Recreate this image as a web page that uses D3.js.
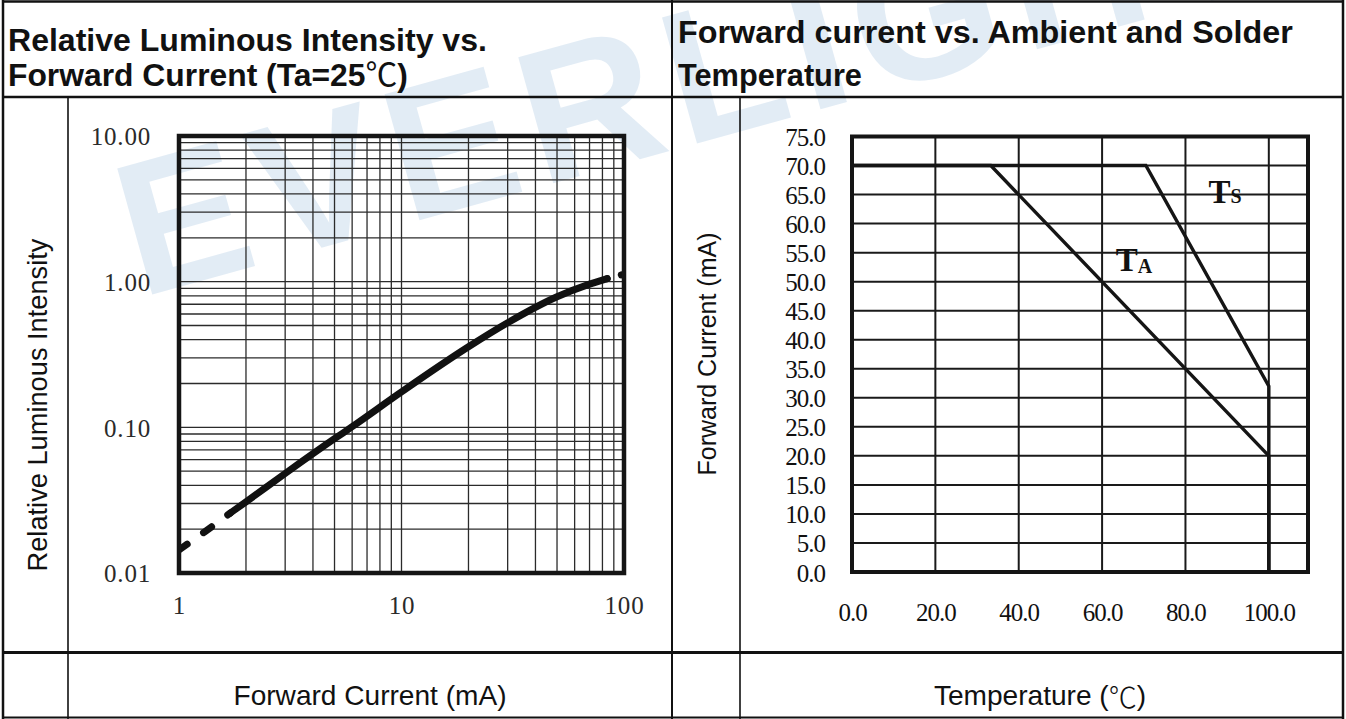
<!DOCTYPE html>
<html>
<head>
<meta charset="utf-8">
<script src="https://cdn.jsdelivr.net/npm/d3@7"></script>
<style>
  html, body { margin: 0; padding: 0; background: #fff; }
  svg { display: block; }
</style>
</head>
<body>
<svg id="chart" width="1346" height="719"></svg>
<script>
// ---------------- DATA ----------------
// Left chart: Relative Luminous Intensity vs Forward Current (log-log)
const leftXTickValues = [1, 10, 100];
const leftXTickLabels = ["1", "10", "100"];
const leftYTickValues = [0.01, 0.1, 1, 10];
const leftYTickLabels = ["0.01", "0.10", "1.00", "10.00"];

// dashed start of the curve
const currentDashed   = [1, 1.3, 1.7];
const intensityDashed = [0.0144, 0.0191, 0.0258];
// solid part of the curve
const currentSolid    = [1.7, 2, 3, 5, 6, 10, 20, 30, 50, 70, 84];
const intensitySolid  = [0.0258, 0.0308, 0.0482, 0.0835, 0.101, 0.175, 0.357, 0.522, 0.787, 0.962, 1.05];
// dotted tail
const currentTail     = [84, 100];
const intensityTail   = [1.05, 1.125];

// Right chart: Forward current vs Ambient and Solder Temperature
const tempTickValues    = [0, 20, 40, 60, 80, 100];
const tempTickLabels    = ["0.0", "20.0", "40.0", "60.0", "80.0", "100.0"];
const currentTickValues = [0, 5, 10, 15, 20, 25, 30, 35, 40, 45, 50, 55, 60, 65, 70, 75];
const currentTickLabels = ["0.0", "5.0", "10.0", "15.0", "20.0", "25.0", "30.0", "35.0",
                           "40.0", "45.0", "50.0", "55.0", "60.0", "65.0", "70.0", "75.0"];
const tempAxisMax = 109.4;   // plot frame extends a little past 100 (cropped)

const ambientTemp    = [0, 33.3, 100, 100];
const ambientCurrent = [70, 70, 20, 0];
const solderTemp     = [0, 70.5, 100, 100];
const solderCurrent  = [70, 70, 32, 0];

// text
const leftTitle  = ["Relative Luminous Intensity vs.", "Forward Current (Ta=25", ")"];
const rightTitle = ["Forward current vs. Ambient and Solder", "Temperature"];

// ---------------- DRAW ----------------
const svg = d3.select("#chart");
const SANS = "'Liberation Sans', Arial, Helvetica, sans-serif";
const SERIF = "'Liberation Serif', 'Times New Roman', Times, serif";
const CJK = "'Noto Sans CJK SC', 'DejaVu Sans', sans-serif";

function fitWidth(sel, target) {
  const w = sel.node().getComputedTextLength();
  const fs = parseFloat(sel.attr("font-size"));
  sel.attr("font-size", (fs * target / w).toFixed(2));
}
// horizontally squeeze/stretch a text (placed at x,y) to a target width
function fitScaleX(sel, x, y, target) {
  const w = sel.node().getBBox().width;
  sel.attr("transform", `translate(${x},${y}) scale(${(target / w).toFixed(4)},1)`);
}

// watermark
svg.append("text")
  .attr("transform", "translate(140,298) rotate(-15.5)")
  .attr("font-family", SANS)
  .attr("font-weight", "bold")
  .attr("font-size", 190)
  .attr("letter-spacing", 12)
  .attr("fill", "#1f6fb5")
  .attr("fill-opacity", 0.13)
  .text("EVERLIGHT");

// ---------- table frame ----------
const table = svg.append("g").attr("stroke", "#111").attr("fill", "none");
const hLines = [
  { y: 1.5, x1: 2, x2: 1344, w: 2.5 },
  { y: 97, x1: 2, x2: 1344, w: 2.5 },
  { y: 652.5, x1: 2, x2: 1344, w: 3 },
  { y: 717.5, x1: 2, x2: 1344, w: 2 }
];
const vLines = [
  { x: 3, y1: 0, y2: 719, w: 2.5 },
  { x: 672, y1: 0, y2: 719, w: 2 },
  { x: 1343, y1: 0, y2: 719, w: 2.5 },
  { x: 68, y1: 97, y2: 719, w: 1.6 },
  { x: 740, y1: 97, y2: 719, w: 1.6 }
];
table.selectAll(".h").data(hLines).join("line")
  .attr("x1", d => d.x1).attr("x2", d => d.x2).attr("y1", d => d.y).attr("y2", d => d.y)
  .attr("stroke-width", d => d.w);
table.selectAll(".v").data(vLines).join("line")
  .attr("x1", d => d.x).attr("x2", d => d.x).attr("y1", d => d.y1).attr("y2", d => d.y2)
  .attr("stroke-width", d => d.w);

// ---------- titles ----------
function titleLine(x, y, target, parts) {
  const t = svg.append("text").attr("x", 0).attr("y", 0)
    .attr("font-family", SANS).attr("font-weight", "bold").attr("font-size", 32)
    .attr("fill", "#111");
  parts.forEach(p => {
    const s = t.append("tspan").text(p.text);
    if (p.cjk) s.attr("font-family", CJK).attr("font-weight", "normal");
  });
  fitScaleX(t, x, y, target);
  return t;
}
titleLine(8, 51, 479, [{ text: leftTitle[0] }]);
titleLine(8, 86, 400, [{ text: leftTitle[1] }, { text: "\u2103", cjk: true }, { text: leftTitle[2] }]);
titleLine(678, 43, 615, [{ text: rightTitle[0] }]);
titleLine(678, 86, 184, [{ text: rightTitle[1] }]);

// ---------- LEFT CHART ----------
const xL = d3.scaleLog().domain([1, 100]).range([179, 624]);
const yL = d3.scaleLog().domain([0.01, 10]).range([573, 136]);

const gL = svg.append("g");
gL.append("g").selectAll("line").data(xL.ticks()).join("line")
  .attr("x1", d => xL(d)).attr("x2", d => xL(d))
  .attr("y1", yL.range()[0]).attr("y2", yL.range()[1])
  .attr("stroke", "#2b2b2b").attr("stroke-width", 1.3);
gL.append("g").selectAll("line").data(yL.ticks()).join("line")
  .attr("y1", d => yL(d)).attr("y2", d => yL(d))
  .attr("x1", xL.range()[0]).attr("x2", xL.range()[1])
  .attr("stroke", "#2b2b2b").attr("stroke-width", 1.3);

const lineL = d3.line().x(d => xL(d[0])).y(d => yL(d[1])).curve(d3.curveMonotoneX);
svg.append("clipPath").attr("id", "clipL").append("rect")
  .attr("x", xL.range()[0]).attr("y", yL.range()[1])
  .attr("width", xL.range()[1] - xL.range()[0]).attr("height", yL.range()[0] - yL.range()[1]);
const curveG = gL.append("g").attr("clip-path", "url(#clipL)")
  .attr("fill", "none").attr("stroke", "#111").attr("stroke-linecap", "round").attr("stroke-width", 7);
curveG.append("path").attr("d", lineL(currentDashed.map((c, i) => [c, intensityDashed[i]])))
  .attr("stroke-dasharray", "10 20");
curveG.append("path").attr("d", lineL(currentSolid.map((c, i) => [c, intensitySolid[i]])));
curveG.append("path").attr("d", lineL(currentTail.map((c, i) => [c, intensityTail[i]])))
  .attr("stroke-dasharray", "0.1 14.5");

gL.append("rect")
  .attr("x", xL.range()[0]).attr("y", yL.range()[1])
  .attr("width", xL.range()[1] - xL.range()[0]).attr("height", yL.range()[0] - yL.range()[1])
  .attr("fill", "none").attr("stroke", "#151515").attr("stroke-width", 4.5);

const axL = svg.append("g").attr("transform", `translate(${xL.range()[0]},0)`)
  .call(d3.axisLeft(yL).tickValues(leftYTickValues)
    .tickFormat((d, i) => leftYTickLabels[i]).tickSize(0).tickPadding(28));
const axB = svg.append("g").attr("transform", `translate(0,${yL.range()[0]})`)
  .call(d3.axisBottom(xL).tickValues(leftXTickValues)
    .tickFormat((d, i) => leftXTickLabels[i]).tickSize(0).tickPadding(23));
[axL, axB].forEach(a => {
  a.select(".domain").remove();
  a.selectAll("text").attr("font-family", SERIF).attr("font-size", 25)
    .attr("fill", "#2a2a2a").attr("letter-spacing", 0.8);
});
axL.selectAll("text").attr("dy", "0.35em");

// ---------- RIGHT CHART ----------
const xR = d3.scaleLinear().domain([0, tempAxisMax]).range([852, 1308]);
const yR = d3.scaleLinear().domain([0, 75]).range([572, 136.5]);
const gR = svg.append("g");
gR.append("g").selectAll("line").data(tempTickValues).join("line")
  .attr("x1", d => xR(d)).attr("x2", d => xR(d))
  .attr("y1", yR.range()[0]).attr("y2", yR.range()[1])
  .attr("stroke", "#1a1a1a").attr("stroke-width", 2);
gR.append("g").selectAll("line").data(currentTickValues).join("line")
  .attr("y1", d => yR(d)).attr("y2", d => yR(d))
  .attr("x1", xR.range()[0]).attr("x2", xR.range()[1])
  .attr("stroke", "#1a1a1a").attr("stroke-width", 2);

const lineR = d3.line().x(d => xR(d[0])).y(d => yR(d[1]));
gR.append("path").attr("d", lineR(ambientTemp.map((t, i) => [t, ambientCurrent[i]])))
  .attr("fill", "none").attr("stroke", "#151515").attr("stroke-width", 3.4);
gR.append("path").attr("d", lineR(solderTemp.map((t, i) => [t, solderCurrent[i]])))
  .attr("fill", "none").attr("stroke", "#151515").attr("stroke-width", 3.4);

gR.append("rect")
  .attr("x", xR.range()[0]).attr("y", yR.range()[1])
  .attr("width", xR.range()[1] - xR.range()[0]).attr("height", yR.range()[0] - yR.range()[1])
  .attr("fill", "none").attr("stroke", "#151515").attr("stroke-width", 4);

// series labels
const ta = gR.append("text").attr("x", xR(63.3)).attr("y", yR(51.8))
  .attr("font-family", SERIF).attr("font-weight", "bold").attr("font-size", 33).attr("fill", "#111");
ta.append("tspan").text("T");
ta.append("tspan").attr("font-size", 20).attr("dy", 2).text("A");
const ts = gR.append("text").attr("x", xR(85.5)).attr("y", yR(63.5))
  .attr("font-family", SERIF).attr("font-weight", "bold").attr("font-size", 33).attr("fill", "#111");
ts.append("tspan").text("T");
ts.append("tspan").attr("font-size", 20).text("S");

const axRL = svg.append("g").attr("transform", `translate(${xR.range()[0]},0)`)
  .call(d3.axisLeft(yR).tickValues(currentTickValues)
    .tickFormat((d, i) => currentTickLabels[i]).tickSize(0).tickPadding(27));
const axRB = svg.append("g").attr("transform", `translate(0,${yR.range()[0]})`)
  .call(d3.axisBottom(xR).tickValues(tempTickValues)
    .tickFormat((d, i) => tempTickLabels[i]).tickSize(0).tickPadding(31));
[axRL, axRB].forEach(a => {
  a.select(".domain").remove();
  a.selectAll("text").attr("font-family", SERIF).attr("font-size", 25)
    .attr("fill", "#111").attr("letter-spacing", -1);
});
axRL.selectAll("text").attr("dy", "0.36em");

// ---------- axis titles ----------
const ytL = svg.append("text").attr("transform", "translate(37,405) rotate(-90)")
  .attr("text-anchor", "middle").attr("dominant-baseline", "central")
  .attr("font-family", SANS).attr("font-size", 22).attr("fill", "#111")
  .text("Relative Luminous Intensity");
fitWidth(ytL, 333);
const ytR = svg.append("text").attr("transform", "translate(707,354) rotate(-90)")
  .attr("text-anchor", "middle").attr("dominant-baseline", "central")
  .attr("font-family", SANS).attr("font-size", 22).attr("fill", "#111")
  .text("Forward Current (mA)");
fitWidth(ytR, 243);
const xtL = svg.append("text").attr("x", 370).attr("y", 695)
  .attr("text-anchor", "middle").attr("dominant-baseline", "central")
  .attr("font-family", SANS).attr("font-size", 22).attr("fill", "#111")
  .text("Forward Current (mA)");
fitWidth(xtL, 273);
const xtR = svg.append("text").attr("x", 1040).attr("y", 695)
  .attr("text-anchor", "middle").attr("dominant-baseline", "central")
  .attr("font-family", SANS).attr("font-size", +xtL.attr("font-size")).attr("fill", "#111");
xtR.append("tspan").text("Temperature (");
xtR.append("tspan").attr("font-family", CJK).attr("font-weight", "300").text("\u2103");
xtR.append("tspan").text(")");
</script>
</body>
</html>
